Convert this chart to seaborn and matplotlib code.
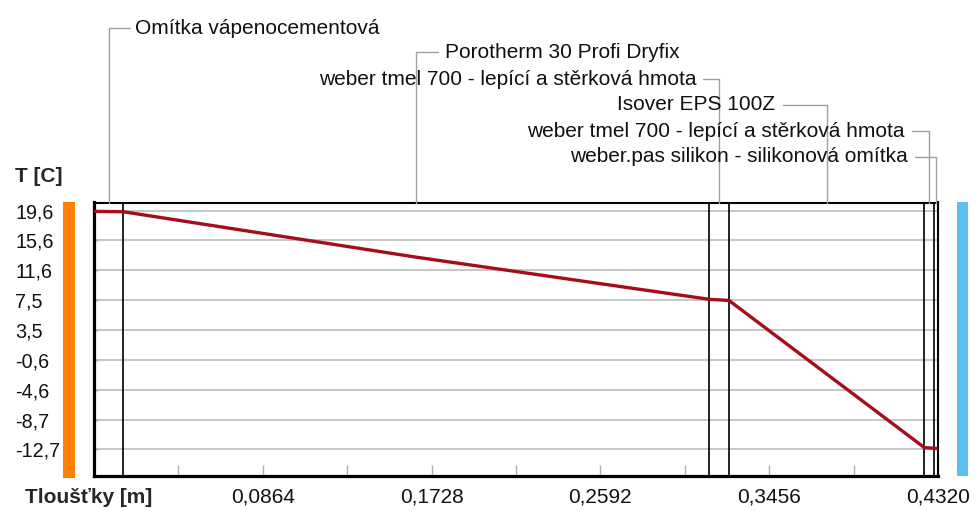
import numpy as np
import pandas as pd
import matplotlib
matplotlib.use("Agg")
import matplotlib.pyplot as plt
import seaborn as sns
from matplotlib.patches import Rectangle
from matplotlib.lines import Line2D
from matplotlib.ticker import FixedLocator

# ---------------- data ----------------
layer_names = [
    "Omítka vápenocementová",
    "Porotherm 30 Profi Dryfix",
    "weber tmel 700 - lepící a stěrková hmota",
    "Isover EPS 100Z",
    "weber tmel 700 - lepící a stěrková hmota",
    "weber.pas silikon - silikonová omítka",
]
layer_bounds = [0.0, 0.015, 0.315, 0.325, 0.425, 0.430, 0.432]
profile_x = [0.0, 0.015, 0.165, 0.315, 0.325, 0.425, 0.430, 0.432]
profile_t = [19.5, 19.45, 13.3, 7.6, 7.45, -12.45, -12.55, -12.6]
y_ticks = [19.6, 15.56, 11.53, 7.49, 3.45, -0.59, -4.63, -8.66, -12.7]
y_tick_labels = ["19,6", "15,6", "11,6", "7,5", "3,5", "-0,6", "-4,6", "-8,7", "-12,7"]
x_ticks = [0.0864, 0.1728, 0.2592, 0.3456, 0.4320]
x_tick_labels = ["0,0864", "0,1728", "0,2592", "0,3456", "0,4320"]
x_minor_ticks = [0.0432, 0.1296, 0.2160, 0.3024, 0.3888]

# ---------------- style ----------------
sns.set_style("white")
plt.rcParams["font.family"] = ["Liberation Sans", "DejaVu Sans"]
FS = 15

W, H = 976, 511
fig = plt.figure(figsize=(W / 100, H / 100), dpi=100)
L, R, T, B = 94, 938, 202.5, 476
ax = fig.add_axes([L / W, 1 - B / H, (R - L) / W, (B - T) / H])

df = pd.DataFrame({"x": profile_x, "T": profile_t})

ax.set_xlim(0, 0.432)
ax.set_ylim(-16.3, 20.7)

# grid lines
for yv in y_ticks:
    ax.axhline(yv, color="#bdbdbd", lw=1.2, zorder=1)

# layer boundaries
for xb in layer_bounds[1:-1]:
    ax.axvline(xb, color="#111111", lw=1.3, zorder=2)

sns.lineplot(data=df, x="x", y="T", ax=ax, color="#a50d1b", lw=2.4,
             zorder=3, legend=False)

ax.set_xlabel("")
ax.set_ylabel("")

# ticks
ax.set_yticks(y_ticks)
ax.set_yticklabels(y_tick_labels, fontsize=14.2, color="#111111")
for lab in ax.get_yticklabels():
    lab.set_ha("left")
ax.tick_params(axis="y", direction="in", length=3, width=1, color="#555555",
               pad=(L - 15) * 0.72, left=True)

ax.xaxis.set_major_locator(FixedLocator(x_ticks))
ax.set_xticklabels(x_tick_labels, fontsize=FS, color="#111111")
ax.xaxis.set_minor_locator(FixedLocator(x_minor_ticks))
ax.tick_params(axis="x", which="both", direction="in", length=8, width=1,
               color="#b0b0b0", pad=8, bottom=True)

# spines
for s, lw in [("left", 2.3), ("bottom", 2.3), ("top", 1.5), ("right", 1.5)]:
    ax.spines[s].set_visible(True)
    ax.spines[s].set_color("black")
    ax.spines[s].set_linewidth(lw)

# axis titles
fig.text(15 / W, 1 - 177 / H, "T [C]", fontsize=FS, fontweight="bold",
         ha="left", va="center")
fig.text(25 / W, 1 - 497 / H, "Tloušťky [m]", fontsize=FS, fontweight="bold",
         ha="left", va="center")

# side colour bars
fig.add_artist(Rectangle((63 / W, 1 - 478 / H), 12 / W, (478 - 202) / H,
                         transform=fig.transFigure, color="#ff8000", lw=0))
fig.add_artist(Rectangle((957 / W, 1 - 476 / H), 11 / W, (476 - 202) / H,
                         transform=fig.transFigure, color="#5bbff2", lw=0))

# layer labels with leaders
def xpix(xd):
    return ax.transData.transform((xd, 0))[0]

label_rows = [28, 52, 79, 105, 131, 157]
label_side = ["left", "left", "right", "right", "right", "right"]
label_text_x = [135, 445, 697, 775, 905, 908]
label_hline_end = [130, 438, 703, 783, 912, 915]
lead_col = "#a0a0a0"
for i, name in enumerate(layer_names):
    mid = 0.5 * (layer_bounds[i] + layer_bounds[i + 1])
    xm = xpix(mid)
    yr = label_rows[i]
    fig.add_artist(Line2D([xm / W, xm / W], [1 - yr / H, 1 - T / H],
                          transform=fig.transFigure, color=lead_col, lw=1))
    fig.add_artist(Line2D([xm / W, label_hline_end[i] / W], [1 - yr / H, 1 - yr / H],
                          transform=fig.transFigure, color=lead_col, lw=1))
    fig.text(label_text_x[i] / W, 1 - yr / H, name, fontsize=FS,
             ha=label_side[i], va="center", color="#111111")

fig.savefig("out.png", dpi=100, facecolor="white")
